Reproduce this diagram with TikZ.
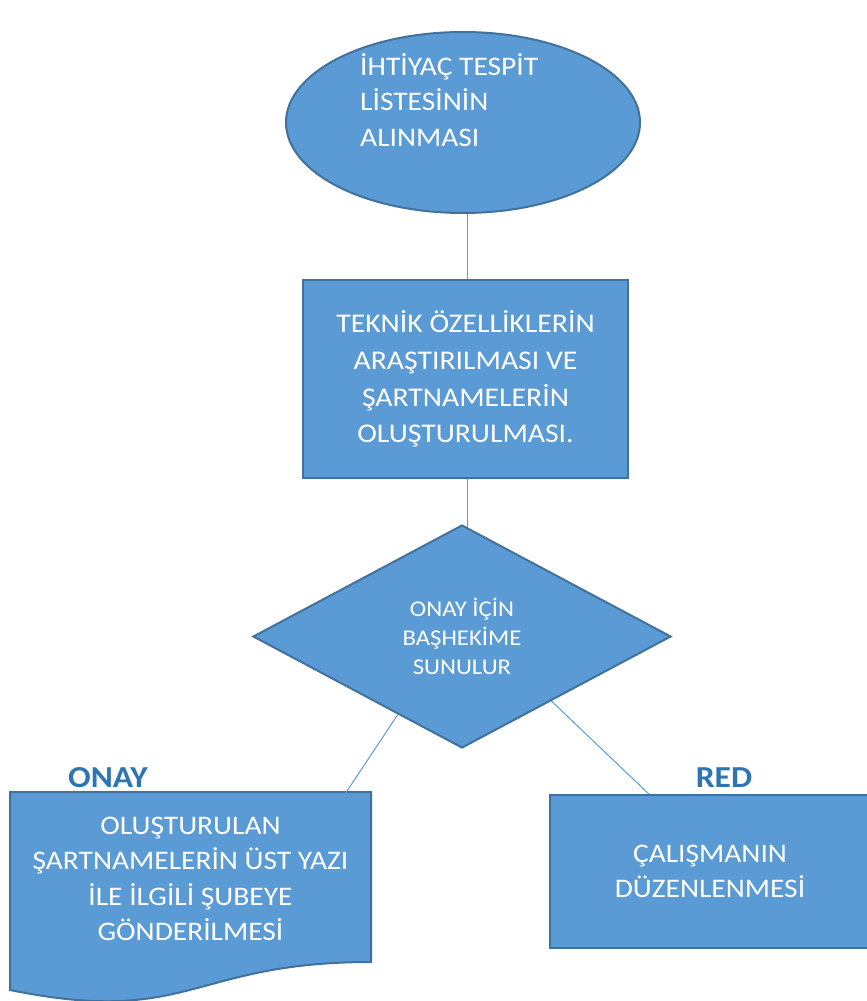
\documentclass[tikz,border=0pt]{standalone}
\usepackage{fontspec}
\setmainfont{Carlito}[FakeStretch=1.1]
\usetikzlibrary{shapes.geometric,calc}
\definecolor{boxfill}{HTML}{5B9BD5}
\definecolor{boxline}{HTML}{41719C}
\definecolor{tagblue}{HTML}{2E75B6}
\begin{document}
\begin{tikzpicture}[x=1pt,y=-1pt,
  shapebox/.style={fill=boxfill,draw=boxline,line width=2pt,text=white,align=center,inner sep=0pt},
  bodytext/.style={font=\fontsize{26.8}{35.5}\selectfont},
  link/.style={draw=boxfill,line width=1pt},
  tag/.style={text=tagblue,inner sep=0pt,font=\fontsize{30.5}{35}\selectfont\bfseries}]
\useasboundingbox (0,0) rectangle (867,1001);
\clip (0,0) rectangle (867,1001);

% connectors (drawn first so the shapes sit on top)
\coordinate (c1a) at (467,210);
\coordinate (c1b) at (467,281);
\coordinate (c2a) at (467,475);
\coordinate (c2b) at (467,528);
\draw[link] (c1a) -- (c1b);
\draw[link] (c2a) -- (c2b);

% start: ellipse
\node[shapebox,ellipse,minimum width=354pt,minimum height=181pt] (ell) at (463,122.5) {};
\node[text=white,align=left,anchor=west,inner sep=0pt,bodytext] (elltxt) at (360,100)
  {İHTİYAÇ TESPİT\\LİSTESİNİN\\ALINMASI};

% process box
\node[shapebox,minimum width=325pt,minimum height=198pt,font=\fontsize{27}{36.7}\selectfont] (r1) at (465.5,379)
  {TEKNİK ÖZELLİKLERİN\\ARAŞTIRILMASI VE\\ŞARTNAMELERİN\\OLUŞTURULMASI.};

% decision
\node[shapebox,diamond,aspect=1.87,minimum width=418pt,minimum height=223pt,font=\fontsize{22.5}{29}\selectfont] (dia) at (462,636.5)
  {ONAY İÇİN\\BAŞHEKİME\\SUNULUR};

% document shape (wavy bottom)
\path[shapebox] (10,792) -- (371,792) -- (371,962)
  .. controls (190.5,962) and (190.5,1026.7) .. (10,990) -- cycle;
\node[minimum width=361pt,minimum height=170pt,inner sep=0pt,text=white,align=center,bodytext] (doc) at (190.5,879)
  {OLUŞTURULAN\\ŞARTNAMELERİN ÜST YAZI\\İLE İLGİLİ ŞUBEYE\\GÖNDERİLMESİ};

% rejected branch box
\node[shapebox,minimum width=320pt,minimum height=153pt,bodytext] (r2) at (710,871.5)
  {ÇALIŞMANIN\\DÜZENLENMESİ};

% branch labels
\node[tag] (ok) at (108,778) {ONAY};
\node[tag] (no) at (724,778) {RED};

% branch connectors
\draw[link] ($(dia.south)!0.306!(dia.west)$) -- ($(doc.north west)!0.928!(doc.north east)$);
\draw[link] ($(dia.south)!0.426!(dia.east)$) -- ($(r2.north west)!0.31!(r2.north east)$);
\end{tikzpicture}
\end{document}
